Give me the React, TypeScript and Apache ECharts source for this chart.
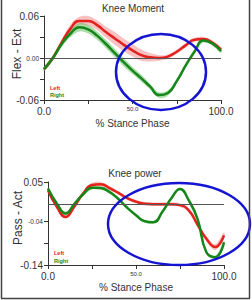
import React, { useEffect, useRef } from "react";
import * as echarts from "echarts";

const PCT = [0, 5, 10, 15, 20, 25, 30, 35, 40, 45, 50, 55, 60, 65, 70, 75, 80, 85, 90, 95, 100];

const MOMENT_LEFT = [-0.016, 0.0, 0.022, 0.042, 0.053, 0.053, 0.047, 0.037, 0.028, 0.019, 0.011, 0.004, 0.001, 0.0, 0.002, 0.009, 0.018, 0.026, 0.027, 0.022, 0.012];
const MOMENT_LEFT_SD = [0.003, 0.004, 0.005, 0.006, 0.006, 0.007, 0.007, 0.008, 0.009, 0.009, 0.009, 0.008, 0.006, 0.004, 0.003, 0.003, 0.003, 0.003, 0.003, 0.003, 0.003];
const MOMENT_RIGHT = [-0.016, 0.0, 0.02, 0.035, 0.044, 0.041, 0.032, 0.02, 0.007, -0.006, -0.018, -0.029, -0.041, -0.053, -0.05, -0.033, -0.011, 0.009, 0.025, 0.021, 0.01];
const MOMENT_RIGHT_SD = [0.003, 0.003, 0.004, 0.005, 0.006, 0.006, 0.006, 0.006, 0.006, 0.006, 0.005, 0.005, 0.004, 0.004, 0.004, 0.003, 0.003, 0.003, 0.003, 0.003, 0.003];

const POWER_LEFT = [0.031, -0.007, -0.03, -0.006, 0.024, 0.043, 0.045, 0.036, 0.025, 0.013, 0.005, 0.0, -0.001, -0.001, -0.001, -0.003, -0.015, -0.048, -0.08, -0.099, -0.072];
const POWER_LEFT_SD = [0.003, 0.004, 0.004, 0.004, 0.005, 0.005, 0.005, 0.005, 0.004, 0.004, 0.004, 0.004, 0.004, 0.004, 0.004, 0.004, 0.004, 0.005, 0.006, 0.007, 0.007];
const POWER_RIGHT = [0.035, 0.001, -0.022, 0.0, 0.022, 0.037, 0.036, 0.027, 0.011, -0.009, -0.026, -0.04, -0.042, -0.018, 0.012, 0.034, 0.008, -0.035, -0.111, -0.122, -0.088];
const POWER_RIGHT_SD = [0.003, 0.003, 0.004, 0.004, 0.004, 0.004, 0.004, 0.004, 0.004, 0.003, 0.003, 0.003, 0.003, 0.003, 0.003, 0.003, 0.003, 0.003, 0.003, 0.003, 0.003];

const X_TICKS = [0, 25, 50, 75, 100];
const X_LABELS = [0, 50, 100];
const MOMENT_Y_TICKS = [-0.06, -0.03, 0, 0.03, 0.06];
const MOMENT_Y_LABELS = [-0.06, 0, 0.06];
const POWER_Y_TICKS = [-0.14, -0.09, -0.04, 0.05];
const POWER_Y_LABELS = [-0.14, -0.04, 0.05];

const FONT = "Liberation Sans, Arial, sans-serif";
const RED = "#e3211d";
const GREEN = "#17861a";
const PINK = "rgba(240,110,110,0.42)";
const LGREEN = "rgba(100,195,100,0.55)";
const AXIS = "#333";

function xAxis(gridIndex: number, nameGap: number) {
  return {
    type: "value",
    gridIndex,
    min: 0,
    max: 100,
    name: "% Stance Phase",
    nameLocation: "middle",
    nameGap,
    nameTextStyle: { fontSize: 10, color: "#333", fontFamily: FONT },
    axisLine: { show: true, onZero: false, lineStyle: { color: AXIS, width: 1 } },
    axisTick: { show: true, length: 4, customValues: X_TICKS, lineStyle: { color: AXIS } },
    axisLabel: {
      customValues: X_LABELS,
      margin: 6,
      formatter: (v: number) => (v === 50 ? `{s|${v.toFixed(1)}}` : `{b|${v.toFixed(1)}}`),
      rich: {
        s: { fontSize: 6, color: "#333", fontFamily: FONT },
        b: { fontSize: 10, color: "#333", fontFamily: FONT },
      },
    },
    splitLine: { show: false },
  };
}

function yAxis(gridIndex: number, min: number, max: number, ticks: number[], labels: number[], small: number) {
  return {
    type: "value",
    gridIndex,
    min,
    max,
    axisLine: { show: true, onZero: false, lineStyle: { color: AXIS, width: 1 } },
    axisTick: { show: true, length: 4, customValues: ticks, lineStyle: { color: AXIS } },
    axisLabel: {
      customValues: labels,
      margin: 5,
      formatter: (v: number) => {
        const t = Math.abs(v) < 1e-9 ? "0.00" : v.toFixed(2);
        return Math.abs(v - small) < 1e-9 ? `{s|${t}}` : `{b|${t}}`;
      },
      rich: {
        s: { fontSize: 6.5, color: "#333", fontFamily: FONT },
        b: { fontSize: 10, color: "#333", fontFamily: FONT },
      },
    },
    splitLine: { show: false },
  };
}

function band(idx: number, mean: number[], sd: number[], color: string) {
  const data = PCT.map((x, i) => [x, mean[i] - sd[i], mean[i] + sd[i]]);
  return {
    type: "custom",
    xAxisIndex: idx,
    yAxisIndex: idx,
    silent: true,
    z: 1,
    data,
    encode: { x: 0, y: [1, 2] },
    renderItem: (params: any, api: any) => {
      if (params.dataIndex !== 0) return null;
      const upper = data.map((d) => api.coord([d[0], d[2]]));
      const lower = data.map((d) => api.coord([d[0], d[1]])).reverse();
      return {
        type: "polygon",
        shape: { points: upper.concat(lower), smooth: 0.35 },
        style: { fill: color, stroke: "none" },
      };
    },
  };
}

function meanLine(idx: number, name: string, mean: number[], color: string, withZero: boolean) {
  const s: any = {
    type: "line",
    name,
    xAxisIndex: idx,
    yAxisIndex: idx,
    smooth: true,
    symbol: "none",
    z: 3,
    lineStyle: { color, width: 2.5 },
    data: PCT.map((x, i) => [x, mean[i]]),
  };
  if (withZero) {
    s.markLine = {
      silent: true,
      symbol: ["none", "none"],
      label: { show: false },
      lineStyle: { color: "#555", width: 1, type: "solid" },
      data: [{ yAxis: 0 }],
    };
  }
  return s;
}

function txt(text: string, x: number, y: number, size: number, fill: string, extra: any = {}) {
  return {
    type: "text",
    x,
    y,
    z: 50,
    ...extra,
    style: { text, fontSize: size, fill, fontFamily: FONT, align: "center", verticalAlign: "middle", ...(extra.style || {}) },
  };
}

export default function App() {
  const ref = useRef<HTMLDivElement>(null);
  useEffect(() => {
    if (!ref.current) return;
    const chart = echarts.init(ref.current, undefined, { renderer: "svg" });
    const option: any = {
      animation: false,
      backgroundColor: "#ffffff",
      textStyle: { fontFamily: FONT },
      grid: [
        { left: 44, top: 16, width: 177, height: 84 },
        { left: 48, top: 182, width: 176, height: 83 },
      ],
      xAxis: [xAxis(0, 18), xAxis(1, 17)],
      yAxis: [
        yAxis(0, -0.06, 0.06, MOMENT_Y_TICKS, MOMENT_Y_LABELS, 0),
        yAxis(1, -0.14, 0.05, POWER_Y_TICKS, POWER_Y_LABELS, -0.04),
      ],
      series: [
        band(0, MOMENT_LEFT, MOMENT_LEFT_SD, PINK),
        band(0, MOMENT_RIGHT, MOMENT_RIGHT_SD, LGREEN),
        meanLine(0, "Left", MOMENT_LEFT, RED, true),
        meanLine(0, "Right", MOMENT_RIGHT, GREEN, false),
        band(1, POWER_LEFT, POWER_LEFT_SD, PINK),
        band(1, POWER_RIGHT, POWER_RIGHT_SD, LGREEN),
        meanLine(1, "Left", POWER_LEFT, RED, true),
        meanLine(1, "Right", POWER_RIGHT, GREEN, false),
      ],
      graphic: [
        txt("Knee Moment", 133, 8, 10, "#333"),
        txt("Knee power", 135, 173, 10, "#333"),
        txt("Flex - Ext", 17, 54, 12, "#333", { rotation: Math.PI / 2 }),
        txt("Pass - Act", 18, 218, 12, "#333", { rotation: Math.PI / 2 }),
        txt("Left", 50, 88, 5.5, RED, { style: { align: "left", fontWeight: "bold" } }),
        txt("Right", 50, 95, 5.5, GREEN, { style: { align: "left", fontWeight: "bold" } }),
        txt("Left", 54, 253, 5.5, RED, { style: { align: "left", fontWeight: "bold" } }),
        txt("Right", 54, 261, 5.5, GREEN, { style: { align: "left", fontWeight: "bold" } }),
        {
          type: "ellipse",
          z: 100,
          shape: { cx: 161, cy: 72, rx: 45, ry: 38 },
          style: { fill: "none", stroke: "#1414d2", lineWidth: 2.5 },
        },
        {
          type: "ellipse",
          z: 100,
          shape: { cx: 179, cy: 224, rx: 71, ry: 41 },
          style: { fill: "none", stroke: "#1414d2", lineWidth: 2.5 },
        },
        { type: "line", z: 100, shape: { x1: 1.5, y1: 0, x2: 1.5, y2: 298.5 }, style: { stroke: "#444", lineWidth: 1.5 } },
        { type: "line", z: 100, shape: { x1: 249.5, y1: 0, x2: 249.5, y2: 298.5 }, style: { stroke: "#444", lineWidth: 1.5 } },
        { type: "line", z: 100, shape: { x1: 1, y1: 298.5, x2: 250, y2: 298.5 }, style: { stroke: "#444", lineWidth: 1.5 } },
      ],
    };
    chart.setOption(option);
    return () => chart.dispose();
  }, []);
  return <div ref={ref} style={{ position: "fixed", left: 0, top: 0, width: 252, height: 300 }} />;
}
